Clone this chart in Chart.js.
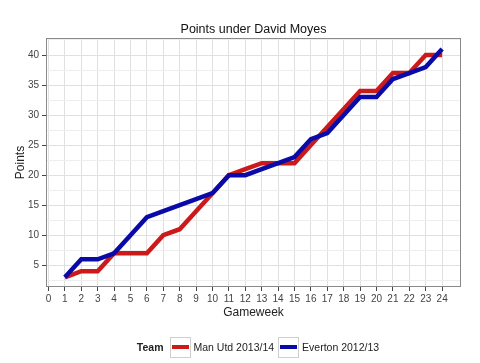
<!DOCTYPE html>
<html>
<head>
<meta charset="utf-8">
<script src="https://cdn.jsdelivr.net/npm/chart.js@4/dist/chart.umd.min.js"></script>
<style>
  body { margin: 0; background: #fff; font-family: "Liberation Sans", Arial, sans-serif; }
  #wrap { position: relative; width: 480px; height: 363px; }
  #legend { position: absolute; left: 0; top: 336px; width: 480px; height: 22px;
            display: flex; justify-content: center; align-items: center; font-size: 10.5px; color: #222; }
  #legend .ttl { font-weight: bold; margin-right: 6px; margin-left: 40px; }
  #legend .key { width: 21px; height: 21px; border: 1px solid #cfcfcf; box-sizing: border-box;
                 display: flex; align-items: center; justify-content: center; margin-right: 3px; }
  #legend .key span { display: block; width: 17px; height: 4px; }
  #legend .lab { margin-right: 4px; }
</style>
</head>
<body>
<div id="wrap">
  <canvas id="chart" width="480" height="363"></canvas>
  <div id="legend"></div>
</div>
<script>
// dữ liệu điểm tích lũy theo vòng đấu
var gameweeks = [1, 2, 3, 4, 5, 6, 7, 8, 9, 10, 11, 12, 13, 14, 15, 16, 17, 18, 19, 20, 21, 22, 23, 24];
var manUtd = [3, 4, 4, 7, 7, 7, 10, 11, 14, 17, 20, 21, 22, 22, 22, 25, 28, 31, 34, 34, 37, 37, 40, 40];
var everton = [3, 6, 6, 7, 10, 13, 14, 15, 16, 17, 20, 20, 21, 22, 23, 26, 27, 30, 33, 33, 36, 37, 38, 41];
var teamNames = ['Man Utd 2013/14', 'Everton 2012/13'];
var teamColors = ['#cc1a1a', '#0a0aa8'];
var xTicks = [0, 1, 2, 3, 4, 5, 6, 7, 8, 9, 10, 11, 12, 13, 14, 15, 16, 17, 18, 19, 20, 21, 22, 23, 24];
var yTicks = [2.5, 5, 7.5, 10, 12.5, 15, 17.5, 20, 22.5, 25, 27.5, 30, 32.5, 35, 37.5, 40, 42.5];

function toPoints(values) {
    var pts = [];
    for (var i = 0; i < gameweeks.length; i++) {
        pts.push({ x: gameweeks[i], y: values[i] });
    }
    return pts;
}

var FONT = '"Liberation Sans", Arial, sans-serif';

// khung viền vùng vẽ
var panelBorder = {
    id: 'panelBorder',
    afterDatasetsDraw: function (chart) {
        var a = chart.chartArea, ctx = chart.ctx;
        ctx.save();
        ctx.strokeStyle = '#8a8a8a';
        ctx.lineWidth = 1;
        ctx.strokeRect(a.left + 0.5, a.top + 0.5, a.right - a.left - 1, a.bottom - a.top - 1);
        ctx.restore();
    }
};

new Chart(document.getElementById('chart'), {
    type: 'line',
    data: {
        datasets: [{
            label: teamNames[1],
            data: toPoints(everton),
            borderColor: teamColors[1],
            backgroundColor: teamColors[1],
            borderWidth: 4.5,
            pointRadius: 0,
            tension: 0,
            order: 1
        }, {
            label: teamNames[0],
            data: toPoints(manUtd),
            borderColor: teamColors[0],
            backgroundColor: teamColors[0],
            borderWidth: 4.5,
            pointRadius: 0,
            tension: 0,
            order: 2
        }]
    },
    options: {
        responsive: false,
        animation: false,
        layout: { padding: { left: 13, right: 19, top: 0, bottom: 43 } },
        plugins: {
            legend: { display: false },
            tooltip: { enabled: false },
            title: {
                display: true,
                text: 'Points under David Moyes',
                fullSize: false,
                color: '#111',
                font: { family: FONT, size: 12.5, weight: 'normal' },
                padding: { top: 22, bottom: 1 }
            }
        },
        scales: {
            x: {
                type: 'linear',
                min: -0.15,
                max: 25.15,
                afterBuildTicks: function (scale) {
                    scale.ticks = xTicks.map(function (v) { return { value: v }; });
                },
                afterFit: function (scale) { scale.height = 33; },
                ticks: {
                    color: '#444',
                    font: { family: FONT, size: 10 },
                    padding: 2,
                    maxRotation: 0,
                    autoSkip: false
                },
                grid: { color: '#e0e0e0', tickColor: '#444', tickLength: 4 },
                border: { display: false },
                title: {
                    display: true,
                    text: 'Gameweek',
                    color: '#222',
                    font: { family: FONT, size: 12 },
                    padding: { top: 1, bottom: 0 }
                }
            },
            y: {
                min: 1.38,
                max: 42.83,
                afterBuildTicks: function (scale) {
                    scale.ticks = yTicks.map(function (v) { return { value: v }; });
                },
                afterFit: function (scale) { scale.width = 33; },
                ticks: {
                    color: '#444',
                    font: { family: FONT, size: 10 },
                    padding: 3,
                    autoSkip: false,
                    callback: function (v) { return v % 5 === 0 ? v : ''; }
                },
                grid: {
                    color: function (c) { return c.tick && c.tick.value % 5 === 0 ? '#e0e0e0' : '#eeeeee'; },
                    tickColor: function (c) { return c.tick && c.tick.value % 5 === 0 ? '#444' : 'rgba(0,0,0,0)'; },
                    tickLength: 4
                },
                border: { display: false },
                title: {
                    display: true,
                    text: 'Points',
                    color: '#222',
                    font: { family: FONT, size: 12 },
                    padding: { top: 0, bottom: 2 }
                }
            }
        }
    },
    plugins: [panelBorder]
});

// chú thích kiểu ggplot
var legend = document.getElementById('legend');
var html = '<span class="ttl">Team</span>';
for (var i = 0; i < teamNames.length; i++) {
    html += '<span class="key"><span style="background:' + teamColors[i] + '"></span></span>' +
            '<span class="lab">' + teamNames[i] + '</span>';
}
legend.innerHTML = html;
</script>
</body>
</html>
